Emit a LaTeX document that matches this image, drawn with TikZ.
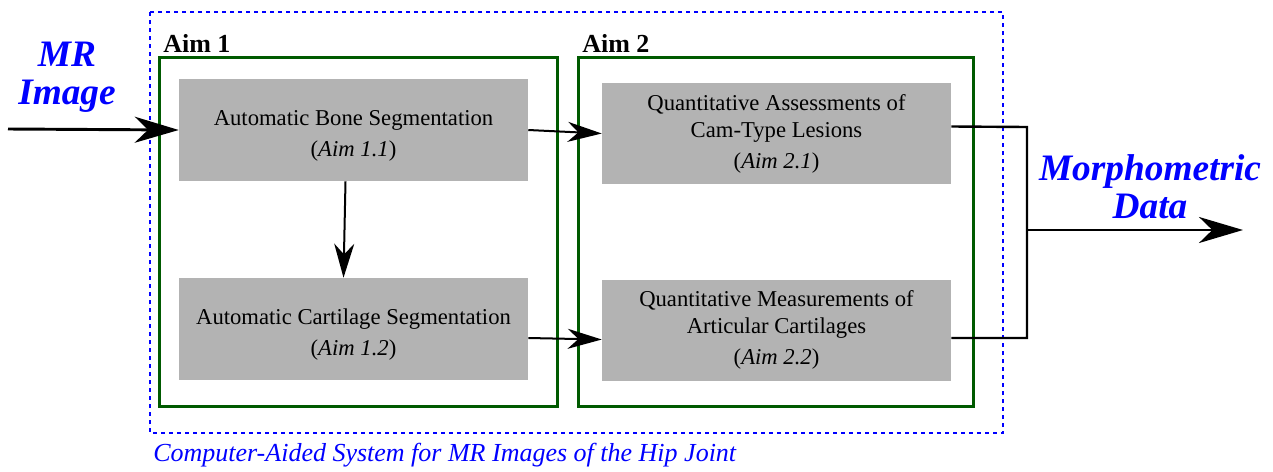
\documentclass[tikz,border=0pt]{standalone}
\usepackage{fontspec}
\setmainfont{Liberation Serif}
\usetikzlibrary{arrows.meta,calc}
\definecolor{aimgreen}{RGB}{0,90,0}
\definecolor{boxgrey}{RGB}{179,179,179}
\definecolor{sysblue}{RGB}{0,0,255}
\begin{document}
\begin{tikzpicture}[x=0.75pt,y=-0.75pt,
  task/.style={fill=boxgrey, draw=none, minimum width=349*0.75pt, minimum height=101*0.75pt, inner sep=0pt},
  tasktext/.style={align=center, font=\fontsize{17}{20.25}\selectfont},
  aimbox/.style={draw=aimgreen, line width=2.25pt},
  aimlabel/.style={anchor=base west, inner sep=0pt, font=\fontsize{19.5}{22}\selectfont\bfseries},
  bigarrow/.style={line width=2.2pt, -{Stealth[length=33pt,width=19.5pt,inset=10pt]}},
  smallarrow/.style={line width=1.5pt, -{Stealth[length=25.5pt,width=15pt,inset=8pt]}},
  conn/.style={line width=1.8pt},
  bluelabel/.style={text=sysblue, align=center, font=\fontsize{28}{28.5}\selectfont\bfseries\itshape}
]
\useasboundingbox (0,0) rectangle (1273,471);
% system boundary
\draw[sysblue, line width=1.5pt, dash pattern=on 3pt off 3pt] (150,12) rectangle (1003,433);
\node[anchor=base west, inner sep=0pt, text=sysblue, font=\fontsize{19.5}{22}\selectfont\itshape] (cap) at (153,461) {Computer-Aided System for MR Images of the Hip Joint};
% aim boxes
\draw[aimbox] (159,57) rectangle (557,406);
\draw[aimbox] (578,57) rectangle (973,406);
\node[aimlabel] (aim1) at (163,52) {Aim 1};
\node[aimlabel] (aim2) at (582,52) {Aim 2};
% task boxes
\node[task, minimum height=102*0.75pt] (bone) at (353.5,130) {};
\node[task, minimum height=102*0.75pt] (cart) at (353.5,329) {};
\node[task] (cam) at (776.5,133.5) {};
\node[task] (artic) at (776.5,330.5) {};
\node[tasktext] (bonet) at (353.5,136) {Automatic Bone Segmentation\\[3pt](\textit{Aim 1.1})};
\node[tasktext] (cartt) at (353.5,335) {Automatic Cartilage Segmentation\\[3pt](\textit{Aim 1.2})};
\node[tasktext] (camt) at (776.5,134) {Quantitative Assessments of\\Cam-Type Lesions\\[3pt](\textit{Aim 2.1})};
\node[tasktext] (artict) at (776.5,330) {Quantitative Measurements of\\Articular Cartilages\\[3pt](\textit{Aim 2.2})};
% labels
\node[bluelabel] (mr) at (67,77) {MR\\Image};
\node[bluelabel] (morph) at (1150,187) {Morphometric\\Data};
% connectors
\coordinate (in) at (8,129);
\coordinate (j1) at (1027,127);
\coordinate (j2) at (1027,338);
\coordinate (jm) at (1027,230);
\coordinate (out) at (1243,230);
\draw[bigarrow] (in) -- (bone.west);
\draw[smallarrow] (bone.east) -- (cam.west);
\draw[smallarrow] ($(bone.south)+(-8,0)$) -- ($(cart.north)+(-10,0)$);
\draw[smallarrow] ($(cart.east)+(0,9)$) -- ($(artic.west)+(0,9)$);
\draw[conn] ($(cam.east)+(0,-7)$) -- (j1) -- (j2) -- ($(artic.east)+(0,7.5)$);
\draw[bigarrow] (jm) -- (out);
\end{tikzpicture}
\end{document}
